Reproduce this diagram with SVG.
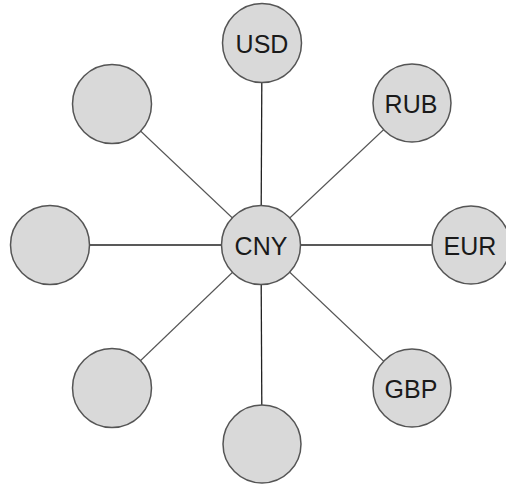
<svg xmlns="http://www.w3.org/2000/svg" width="506" height="484" viewBox="0 0 506 484">
<style>
.n{fill:#d9d9d9;stroke:#555;stroke-width:1.5}
.t{font-family:"Liberation Sans",Arial,sans-serif;font-size:25px;fill:#1a1a1a;text-anchor:middle;dominant-baseline:central}
.e{stroke:#222;stroke-width:1.3;fill:none}
.d{stroke:#555;stroke-width:1.1;fill:none}
</style>
<rect width="506" height="484" fill="#fff"/>
<g id="connectors">
<line class="e" x1="261" y1="245" x2="262" y2="43"/>
<line class="d" x1="261" y1="245" x2="412" y2="103"/>
<line class="d" x1="261" y1="245" x2="112" y2="104"/>
<line class="e" x1="261" y1="245" x2="50" y2="245"/>
<line class="e" x1="261" y1="245" x2="471" y2="245"/>
<line class="d" x1="261" y1="245" x2="112" y2="388"/>
<line class="d" x1="261" y1="245" x2="412" y2="388"/>
<line class="e" x1="261" y1="245" x2="262" y2="445"/>
</g>
<g id="usd"><circle class="n" cx="262" cy="43" r="39.5"/><text class="t" x="262" y="44">USD</text></g>
<g id="rub"><circle class="n" cx="412" cy="103" r="39"/><text class="t" x="411" y="104">RUB</text></g>
<g id="tl"><circle class="n" cx="112" cy="104" r="39.5"/></g>
<g id="cny"><circle class="n" cx="261" cy="245" r="39.5"/><text class="t" x="261" y="246">CNY</text></g>
<g id="left"><circle class="n" cx="50" cy="245" r="39.5"/></g>
<g id="eur"><circle class="n" cx="471" cy="245" r="39"/><text class="t" x="470" y="246">EUR</text></g>
<g id="bl"><circle class="n" cx="112" cy="388" r="39.5"/></g>
<g id="gbp"><circle class="n" cx="412" cy="388" r="39"/><text class="t" x="411" y="389">GBP</text></g>
<g id="bottom"><circle class="n" cx="262" cy="444" r="39"/></g>
</svg>
